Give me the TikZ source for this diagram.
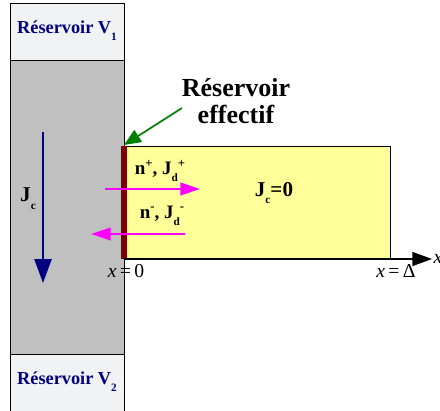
\documentclass[tikz,border=0pt]{standalone}
\usepackage{fontspec}
\setmainfont{Liberation Serif}
\definecolor{cNavy}{HTML}{000080}
\definecolor{cGrey}{HTML}{C0C0C0}
\definecolor{cMarble}{HTML}{F1F2F4}
\definecolor{cYellow}{HTML}{FFFF99}
\definecolor{cWall}{HTML}{800000}
\definecolor{cFlux}{HTML}{FF00FF}
\definecolor{cGreen}{HTML}{008000}
\usetikzlibrary{positioning,arrows.meta}
\newcommand{\sub}[1]{\raisebox{-0.8ex}{\fontsize{8}{8}\selectfont #1}}
\newcommand{\sur}[1]{\raisebox{0.9ex}{\fontsize{9}{9}\selectfont #1}}
\tikzset{
  res-box/.style={draw=black,fill=cMarble},
  col-box/.style={draw=black,fill=cGrey},
  film-box/.style={draw=black,fill=cYellow},
  res-label/.style={font=\fontsize{13}{15}\selectfont\bfseries,text=cNavy},
  txt-label/.style={font=\fontsize{13.5}{15}\selectfont\bfseries,inner sep=0pt},
  pos-label/.style={font=\fontsize{14}{16}\selectfont,inner sep=0pt},
  arrow-jc/.style={-{Triangle[length=17pt,width=12pt]},line width=2pt,draw=cNavy},
  arrow-flux/.style={-{Triangle[length=14pt,width=9pt]},line width=1.4pt,draw=cFlux},
  arrow-note/.style={-{Triangle[length=12pt,width=10pt]},line width=1.2pt,draw=cGreen},
  arrow-axe/.style={-{Triangle[length=14pt,width=10pt]},line width=1pt},
}

\begin{document}
\begin{tikzpicture}[x=0.025cm,y=-0.025cm]
  \useasboundingbox (0,0) rectangle (440,411);
  % colonne et reservoirs
  \draw[col-box] (10,60) rectangle (124,354);
  \draw[res-box] (10,3) rectangle (124,60);
  \draw[res-box] (10,354) rectangle (124,416);
  \node[res-label] (V1) at (67,31) {Réservoir V\sub{1}};
  \node[res-label] (V2) at (67,382) {Réservoir V\sub{2}};
  % film et paroi
  \draw[film-box] (124,146) rectangle (390,259);
  \fill[cWall] (121,146) rectangle (127,259);
  \coordinate (coin) at (124,145);
  \coordinate (x0) at (124,259);
  \coordinate (xmax) at (432,259);
  \draw[arrow-axe] (x0) -- (xmax);
  \node[pos-label,right=1pt of xmax] (xlab) {\textit{x}};
  \node[pos-label] (xzero) at (126,271) {\textit{x}\,=\,0};
  \node[pos-label] (xdelta) at (396,271) {\textit{x}\,=\,Δ};
  % flux de convection
  \coordinate (jtop) at (43,132);
  \coordinate (jbot) at (43,283);
  \draw[arrow-jc] (jtop) -- (jbot);
  \node[txt-label,font=\fontsize{15}{17}\selectfont\bfseries] (jc) at (28,199) {J\sub{c}};
  \node[txt-label,font=\fontsize{15}{17}\selectfont\bfseries] (jc0) at (274,193) {J\sub{c}=0};
  % flux de diffusion
  \coordinate (p1) at (105,189);
  \coordinate (p2) at (200,189);
  \coordinate (m1) at (185,234);
  \coordinate (m2) at (91,234);
  \draw[arrow-flux] (p1) -- (p2);
  \draw[arrow-flux] (m1) -- (m2);
  \node[txt-label] (np) at (160,171) {n\sur{+}, J\sub{d}\sur{+}};
  \node[txt-label] (nm) at (162,216) {n\sur{-}, J\sub{d}\sur{-}};
  % reservoir effectif
  \node[txt-label,font=\fontsize{18.5}{19}\selectfont\bfseries,align=center] (eff) at (236,101) {Réservoir\\effectif};
  \coordinate (depart) at (182,108);
  \draw[arrow-note] (depart) -- (coin);
\end{tikzpicture}
\end{document}
